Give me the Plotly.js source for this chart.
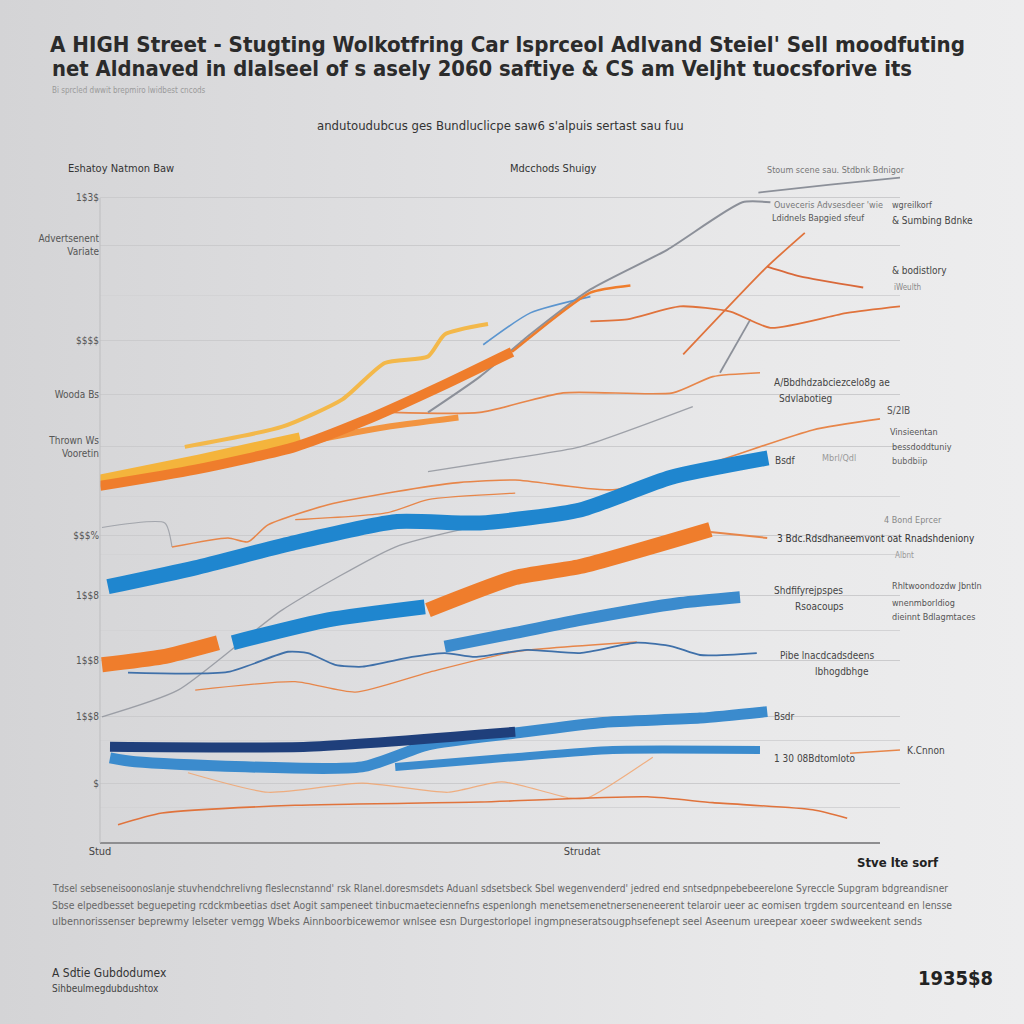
<!DOCTYPE html>
<html><head><meta charset="utf-8">
<script src="https://cdn.plot.ly/plotly-3.0.1.min.js"></script>
<style>
html,body{margin:0;padding:0;width:1024px;height:1024px;overflow:hidden;
background:linear-gradient(90deg,#d4d4d6 0%,#dfdfe1 40%,#e9e9ea 75%,#ededee 100%);}
#chart{width:1024px;height:1024px;}
</style>
</head><body><div id="chart"></div>
<script>
// ---------- DATA ----------
const yellowThickX = [0, 12.5, 25];
const yellowThickY = [55.8, 58.9, 62.3];
const yellowThinX = [10.6, 22.8, 30.3, 35.6, 41.0, 43.1, 48.5];
const yellowThinY = [60.9, 64.0, 68.2, 73.8, 74.8, 78.2, 79.8];
const orangeThickX = [0, 11.9, 24.4, 32.8, 43.1, 51.5];
const orangeThickY = [54.9, 57.4, 60.9, 64.8, 70.5, 75.5];
const orangeUpX = [51.5, 53.8, 61.3, 66.3];
const orangeUpY = [75.5, 77.8, 84.6, 85.7];
const orangeSecondX = [26, 35, 44.8];
const orangeSecondY = [61.7, 63.8, 65.4];
const grayLongX = [41, 47.5, 53.8, 61.3, 70.9, 80.3, 83.8];
const grayLongY = [66.2, 71.7, 78.2, 85.1, 91.2, 98.5, 98.5];
const grayTopX = [82.3, 91.3, 100];
const grayTopY = [100, 101.2, 102.3];
const blueUpX = [47.9, 53.8, 61.3];
const blueUpY = [76.6, 81.5, 84.0];
const orangePeakX = [61.3, 65.9, 72.5, 78.8, 83.8, 93.4, 100];
const orangePeakY = [80.2, 80.5, 82.5, 81.7, 79.2, 81.5, 82.5];
const orangeSteepX = [72.9, 83.4, 88.1];
const orangeSteepY = [75.1, 88.6, 93.8];
const orangeBranchX = [83.4, 87.5, 95.4];
const orangeBranchY = [88.6, 87.1, 85.4];
const graySteepX = [77.5, 81.3];
const graySteepY = [72.3, 80.5];
const orangeMidX = [36.5, 47.5, 57.9, 71.6, 76.6, 82.5];
const orangeMidY = [66.2, 66.2, 69.2, 69.2, 71.7, 72.3];
const grayMidX = [41, 51.9, 60, 74.1];
const grayMidY = [57.1, 59.2, 60.9, 67.1];
const orangeLowX = [9, 16, 18.5, 21, 28.5, 36.9, 44.8, 51.9, 64.1, 76.6, 89.1, 97.5];
const orangeLowY = [45.5, 46.9, 46.3, 48.9, 52.0, 54.0, 55.4, 55.8, 54.3, 58.5, 63.5, 65.2];
const orangeLow2X = [24.4, 36, 41, 51.9];
const orangeLow2Y = [49.7, 50.8, 52.8, 53.8];
const grayShortX = [0.25, 8.1, 9];
const grayShortY = [48.5, 49.2, 45.5];
const blueThickX = [1, 11.9, 24.4, 36.9, 47.5, 60, 71.3, 83.5];
const blueThickY = [39.4, 42.3, 46.2, 49.4, 49.2, 51.2, 56.2, 59.2];
const orangeBandAX = [0.25, 7.75, 14.75];
const orangeBandAY = [27.4, 28.6, 30.8];
const blueBandAX = [16.6, 28.5, 40.6];
const blueBandAY = [30.8, 34.3, 36.3];
const orangeBandBX = [41, 51.9, 60, 76.3];
const orangeBandBY = [35.8, 40.8, 42.5, 48.2];
const orangeTailX = [76.3, 83.4];
const orangeTailY = [47.8, 46.9];
const blueBandBX = [43.1, 51.9, 60, 72.5, 80];
const blueBandBY = [30.2, 32.3, 34.3, 36.9, 37.8];
const blueWiggleX = [3.5, 16, 23.5, 26, 29.4, 32.8, 39, 43.1, 46.9, 53.4, 60, 67.1, 71.6, 75, 82.1];
const blueWiggleY = [26.2, 26.3, 29.4, 29.2, 27.4, 27.1, 28.6, 29.2, 28.6, 29.7, 29.2, 30.8, 30.2, 28.9, 29.2];
const orangeUnderX = [11.9, 24.4, 31.9, 41, 51.9, 67.1];
const orangeUnderY = [23.5, 24.8, 23.2, 26.2, 29.4, 30.9];
const grayDiagX = [0.25, 9.75, 22.75, 36.9, 45.25];
const grayDiagY = [19.4, 23.5, 35.8, 45.5, 48.2];
const navyX = [1.25, 26, 51.9];
const navyY = [14.8, 14.8, 17.1];
const blueMedX = [1.25, 4.4, 32.75, 41, 51.9, 62.5, 75, 83.4];
const blueMedY = [13.1, 12.5, 11.7, 15.1, 16.9, 18.5, 19.2, 20.2];
const blueLowX = [36.9, 51.9, 64.1, 82.5];
const blueLowY = [11.7, 13.2, 14.3, 14.3];
const orangeBottomX = [2.25, 7.75, 24.4, 47.5, 68.4, 76.6, 89.1, 93.4];
const orangeBottomY = [2.8, 4.6, 5.8, 6.3, 7.1, 6.2, 5.1, 3.8];
const orangeFaintX = [11, 21, 32.75, 43.5, 50.25, 58.75, 60.9, 69.1];
const orangeFaintY = [10.8, 7.8, 9.2, 7.8, 9.4, 6.9, 6.9, 13.2];
const orangeRightX = [93.75, 100];
const orangeRightY = [13.8, 14.3];

const yTickVals = [99.2, 91.9, 77.3, 68.9, 60.9, 47.3, 38.0, 28.1, 19.4, 9.2];
const yTickText = ["1$3$", "Advertsenent<br>Variate", "$$$$", "Wooda Bs", "Thrown Ws<br>Vooretin", "$$$%", "1$$8", "1$$8", "1$$8", "$"];
const yMinorVals = [84.1, 53.2, 44.4, 32.6, 15.7, 5.4];
const xTickVals = [0, 60.25];
const xTickText = ["Stud", "Strudat"];

const titleLine1 = "A HIGH Street - Stugting Wolkotfring Car lsprceol Adlvand Steiel' Sell moodfuting";
const titleLine2 = "net Aldnaved in dlalseel of s asely 2060 saftiye & CS am Veljht tuocsforive its";
const noteLines = [
  "Tdsel sebseneisoonoslanje stuvhendchrelivng fleslecnstannd' rsk Rlanel.doresmsdets Aduanl sdsetsbeck Sbel wegenvenderd' jedred end sntsedpnpebebeerelone Syreccle Supgram bdgreandisner",
  "Sbse elpedbesset beguepeting rcdckmbeetias dset Aogit sampeneet tinbucmaeteciennefns espenlongh menetsemenetnerseneneerent telaroir ueer ac eomisen trgdem sourcenteand en lensse",
  "ulbennorissenser beprewmy lelseter vemgg Wbeks Ainnboorbicewemor wnlsee esn Durgestorlopel ingmpneseratsougphsefenept seel Aseenum ureepear xoeer swdweekent sends"
];

// ---------- STYLE ----------
const FONT = "DejaVu Sans Condensed, Liberation Sans Narrow, DejaVu Sans, sans-serif";
const C = {
  orange: "#ef7d2c", orangeThin: "#e7864a", orangeLight: "#f2a067", yellow: "#f4b43c",
  blue: "#1f86cf", blueMid: "#3b8bcd", navy: "#1f3f7b", gray: "#8c9099", blueThin: "#3f70a9"
};
function tr(x, y, color, width, opacity) {
  return {x: x, y: y, type: "scatter", mode: "lines", hoverinfo: "skip",
    line: {color: color, width: width, shape: "spline", smoothing: 0.6}, opacity: opacity || 1};
}
const traces = [
  tr(orangeFaintX, orangeFaintY, C.orangeLight, 1.2, 0.8),
  tr(grayShortX, grayShortY, C.gray, 1.2, 0.7),
  tr(grayDiagX, grayDiagY, C.gray, 1.3, 0.8),
  tr(grayMidX, grayMidY, C.gray, 1.3, 0.8),
  tr(orangeUnderX, orangeUnderY, C.orangeThin, 1.3),
  tr(orangeLow2X, orangeLow2Y, C.orangeThin, 1.3),
  tr(orangeLowX, orangeLowY, C.orangeThin, 1.6),
  tr(orangeMidX, orangeMidY, C.orangeThin, 1.6),
  tr(grayLongX, grayLongY, C.gray, 2),
  tr(grayTopX, grayTopY, C.gray, 1.8),
  tr(graySteepX, graySteepY, C.gray, 1.8),
  tr(blueUpX, blueUpY, "#5b95cf", 1.6),
  tr(orangePeakX, orangePeakY, "#e0733c", 1.8),
  tr(orangeSteepX, orangeSteepY, "#e0733c", 1.8),
  tr(orangeBranchX, orangeBranchY, "#d9693a", 1.8),
  tr(orangeRightX, orangeRightY, C.orangeThin, 1.5),
  tr(orangeBottomX, orangeBottomY, "#e0733c", 1.6),
  tr(blueWiggleX, blueWiggleY, C.blueThin, 1.8),
  tr(yellowThickX, yellowThickY, C.yellow, 11),
  tr(yellowThinX, yellowThinY, "#f3b84a", 4),
  tr(orangeSecondX, orangeSecondY, "#f29440", 6),
  tr(orangeThickX, orangeThickY, C.orange, 10),
  tr(orangeUpX, orangeUpY, C.orange, 2.5),
  tr(blueThickX, blueThickY, C.blue, 15),
  tr(orangeBandAX, orangeBandAY, C.orange, 15),
  tr(blueBandAX, blueBandAY, C.blue, 15),
  tr(orangeBandBX, orangeBandBY, C.orange, 15),
  tr(orangeTailX, orangeTailY, C.orangeThin, 2),
  tr(blueBandBX, blueBandBY, C.blueMid, 12),
  tr(blueLowX, blueLowY, C.blueMid, 8),
  tr(blueMedX, blueMedY, C.blueMid, 11),
  tr(navyX, navyY, C.navy, 10)
];

// ---------- LAYOUT ----------
const L = 100, R = 124, T = 160, B = 181, PW = 1024 - L - R, PH = 1024 - T - B;
function px(x) { return (x - L) / PW; }
function py(y) { return (1024 - B - y) / PH; }
// [text, xpx, ypx, size, color, anchor, bold]
const labels = [
  [titleLine2, 50, 68, 22, "#2b2b2b", "left", true],
  ["Bi sprcled dwwit brepmiro lwidbest cncods", 50, 90, 8, "#9a9a9a", "left", false],
  ["andutoudubcus ges Bundluclicpe saw6 s'alpuis sertast sau fuu", 500, 126, 13, "#333", "center", false],
  ["Eshatoy Natmon Baw", 66, 168, 11, "#333", "left", false],
  ["Mdcchods Shuigy", 508, 168, 11, "#333", "left", false],
  ["Stoum scene sau. Stdbnk Bdnigor", 765, 170, 9, "#777", "left", false],
  ["Ouveceris Advsesdeer 'wie", 772, 205, 9, "#777", "left", false],
  ["Ldidnels Bapgied sfeuf", 770, 218, 9, "#555", "left", false],
  ["wgreilkorf", 890, 205, 9, "#555", "left", false],
  ["& Sumbing Bdnke", 890, 220, 10, "#444", "left", false],
  ["& bodistlory", 890, 270, 10, "#444", "left", false],
  ["iWeulth", 892, 287, 8, "#888", "left", false],
  ["A/Bbdhdzabciezcelo8g ae", 772, 382, 10, "#444", "left", false],
  ["Sdvlabotieg", 777, 398, 10, "#444", "left", false],
  ["S/2IB", 885, 410, 10, "#555", "left", false],
  ["Vinsieentan", 888, 432, 9, "#555", "left", false],
  ["bessdoddtuniy", 890, 447, 9, "#555", "left", false],
  ["bubdbiip", 890, 461, 9, "#666", "left", false],
  ["Bsdf", 773, 460, 10, "#444", "left", false],
  ["Mbrl/Qdl", 820, 458, 9, "#999", "left", false],
  ["4 Bond Eprcer", 882, 520, 9, "#888", "left", false],
  ["3 Bdc.Rdsdhaneemvont oat Rnadshdeniony", 775, 538, 10, "#333", "left", false],
  ["Albnt", 893, 555, 8, "#999", "left", false],
  ["Shdfifyrejpspes", 772, 590, 10, "#444", "left", false],
  ["Rsoacoups", 793, 606, 10, "#444", "left", false],
  ["Rhltwoondozdw Jbntln", 890, 586, 9, "#555", "left", false],
  ["wnenmborldiog", 890, 603, 9, "#555", "left", false],
  ["dieinnt Bdlagmtaces", 890, 617, 9, "#555", "left", false],
  ["Pibe lnacdcadsdeens", 778, 655, 10, "#444", "left", false],
  ["lbhogdbhge", 813, 671, 10, "#444", "left", false],
  ["Bsdr", 772, 716, 10, "#444", "left", false],
  ["1 30 08Bdtomloto", 772, 758, 10, "#444", "left", false],
  ["K.Cnnon", 905, 750, 10, "#444", "left", false],
  ["Stve lte sorf", 898, 862, 13, "#222", "center", true],
  [noteLines[0], 50, 888, 10, "#666", "left", false],
  [noteLines[1], 50, 905, 10, "#666", "left", false],
  [noteLines[2], 50, 921, 10, "#666", "left", false],
  ["A Sdtie Gubdodumex", 50, 973, 12, "#333", "left", false],
  ["Sihbeulmegdubdushtox", 50, 988, 10, "#444", "left", false],
  ["1935$8", 995, 978, 20, "#222", "right", true]
];
const annotations = labels.map(function (a) {
  return {text: a[6] ? "<b>" + a[0] + "</b>" : a[0], xref: "paper", yref: "paper",
    x: px(a[1]), y: py(a[2]), xanchor: a[5], yanchor: "middle", showarrow: false,
    font: {family: FONT, size: a[3], color: a[4]}};
});

const layout = {
  width: 1024, height: 1024,
  margin: {l: L, r: R, t: T, b: B},
  paper_bgcolor: "rgba(0,0,0,0)", plot_bgcolor: "rgba(0,0,0,0)",
  showlegend: false,
  title: {text: "<b>" + titleLine1 + "</b>",
    x: 50 / 1024, xanchor: "left", xref: "container", y: 1 - 44 / 1024, yanchor: "middle", yref: "container",
    font: {family: FONT, size: 22, color: "#2b2b2b"}},
  xaxis: {range: [0, 100], showgrid: false, zeroline: false, showline: false,
    tickvals: xTickVals, ticktext: xTickText, ticks: "",
    tickfont: {family: FONT, size: 11, color: "#444"}},
  yaxis: {range: [0, 105], showgrid: true, gridcolor: "#cbcbcd", gridwidth: 1, zeroline: false,
    showline: false, tickvals: yTickVals, ticktext: yTickText, ticks: "",
    tickfont: {family: FONT, size: 10, color: "#555"},
    minor: {tickvals: yMinorVals, showgrid: true, gridcolor: "#d3d3d5", gridwidth: 1}},
  shapes: [
    {type: "line", xref: "paper", yref: "paper", x0: 0, x1: px(880), y0: 0, y1: 0,
      line: {color: "#8e8e90", width: 2}},
    {type: "line", xref: "paper", yref: "paper", x0: 0, x1: 0, y0: 0, y1: py(198),
      line: {color: "#bdbdbf", width: 1}}
  ],
  annotations: annotations
};

// target widths (px) of the long text lines, as in the reference
const fitWidths = {};
fitWidths[titleLine1] = 915;
fitWidths[titleLine2] = 860;
fitWidths[noteLines[0]] = 895;
fitWidths[noteLines[1]] = 900;
fitWidths[noteLines[2]] = 870;

Plotly.newPlot("chart", traces, layout, {staticPlot: true, displayModeBar: false}).then(function (gd) {
  gd.querySelectorAll("text").forEach(function (t) {
    const w = fitWidths[t.textContent];
    if (!w) return;
    const b0 = t.getBBox();
    t.setAttribute("textLength", w);
    t.setAttribute("lengthAdjust", "spacingAndGlyphs");
    const b1 = t.getBBox();
    const x = parseFloat(t.getAttribute("x") || "0");
    t.setAttribute("x", x + (b0.x - b1.x));
  });
});
</script></body></html>
